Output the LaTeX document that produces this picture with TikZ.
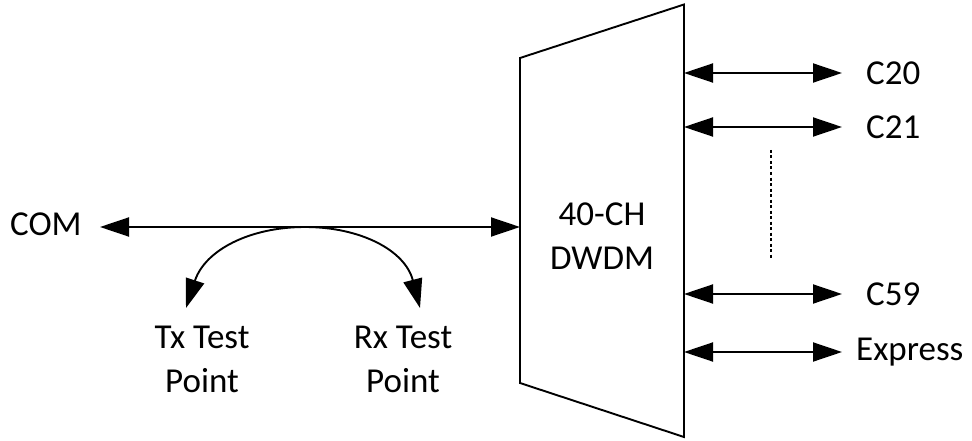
\documentclass[tikz,border=0pt]{standalone}
\usepackage{fontspec}
\setmainfont{Carlito}
\usetikzlibrary{arrows.meta}
\begin{document}
\begin{tikzpicture}[x=1pt,y=-1pt,
  lbl/.style={font=\fontsize{35}{44}\selectfont, inner sep=0pt, align=center},
  conn/.style={line width=1.9pt, {Triangle[length=29pt,width=19pt]}-{Triangle[length=29pt,width=19pt]}},
  box/.style={line width=1.9pt, line join=miter}]
\useasboundingbox (0,0) rectangle (972,441);
% trapezoid
\coordinate (tl) at (520,58);
\coordinate (tr) at (684,4.5);
\coordinate (br) at (684,437);
\coordinate (bl) at (520,383);
\draw[box] (tl) -- (tr) -- (br) -- (bl) -- cycle;
\node[lbl] (dwdm) at (602,236) {40-CH\\DWDM};
% COM
\node[lbl, anchor=west] (com) at (10,224) {COM};
\coordinate (comL) at (100,227);
\coordinate (comR) at (520,227);
\draw[conn] (comL) -- (comR);
% test points
\node[lbl, anchor=north] (tx) at (202,326) {Tx Test\\Point};
\node[lbl, anchor=north] (rx) at (403,326) {Rx Test\\Point};
\coordinate (txtip) at (186,308);
\coordinate (rxtip) at (420,308);
\coordinate (top) at (305,227);
\draw[conn] (txtip) .. controls (205,250) and (250,227) .. (top)
  .. controls (360,227) and (405,250) .. (rxtip);
% outputs
\foreach \n/\y/\t/\xl in {c20/73/C20/866, c21/127/C21/866, c59/294/C59/866, exp/352/Express/856} {
  \node[lbl, anchor=west] (\n) at (\xl,\y) {\t};
  \coordinate (\n s) at (684,\y);
  \coordinate (\n e) at (842,\y);
  \draw[conn] (\n s) -- (\n e);
}
\coordinate (dotA) at (771,150);
\coordinate (dotB) at (771,259);
\draw[line width=1.3pt, dash pattern=on 3pt off 2.5pt] (dotA) -- (dotB);
\end{tikzpicture}
\end{document}
